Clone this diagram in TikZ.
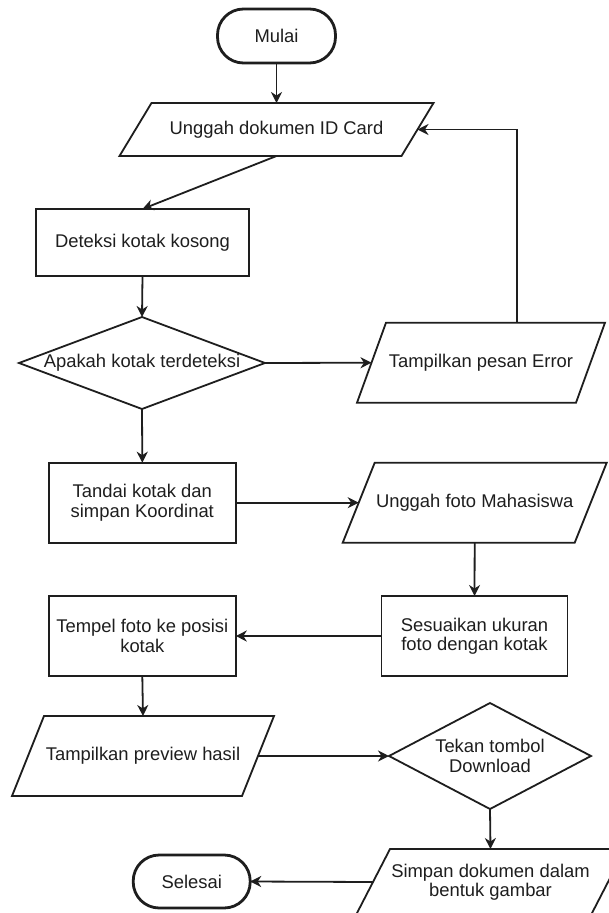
\documentclass[tikz,border=0pt]{standalone}
\usepackage{fontspec}
\setmainfont{Liberation Sans}
\usetikzlibrary{arrows.meta}
\definecolor{ink}{HTML}{1E1E1E}
\newcommand\mkdiam[1]{\draw[shapeline] (#1.north) -- (#1.east) -- (#1.south) -- (#1.west) -- cycle;}
\newcommand\mkpara[2]{\draw[shapeline] ([xshift=#2]#1.north west) -- ([xshift=#2]#1.north east) -- ([xshift=-#2]#1.south east) -- ([xshift=-#2]#1.south west) -- cycle;}
\tikzset{
  shapeline/.style={draw=ink, line width=1.8pt, line join=miter},
  base/.style={inner sep=0pt, outer sep=0pt, text=ink, align=center,
    font=\fontsize{18.4}{19.5}\selectfont},
  procbox/.style={base, draw=ink, line width=1.8pt, rectangle},
  iobox/.style={base, rectangle},
  decbox/.style={base, rectangle},
  termbox/.style={base, draw=ink, line width=2.8pt, rectangle, rounded corners=26pt},
  conn/.style={draw=ink, line width=1.8pt, -{Stealth[length=11pt,width=11pt,inset=3.5pt]}}
}
\begin{document}
\begin{tikzpicture}[x=1pt,y=-1pt]
\useasboundingbox (0,0) rectangle (609,913);
\clip (0,0) rectangle (609,913);
\fill[white] (0,0) rectangle (609,913);

\node[termbox, minimum width=118pt, minimum height=54pt] (mulai) at (276.5,36) {Mulai};
\node[iobox, minimum width=282pt, minimum height=53pt] (unggah) at (276.5,129.5) {Unggah dokumen ID Card};
\node[procbox, minimum width=213pt, minimum height=67pt] (deteksi) at (142.5,242.5) {Deteksi kotak kosong};
\node[decbox, minimum width=246pt, minimum height=92pt] (apakah) at (142,363) {Apakah kotak terdeteksi};
\node[iobox, minimum width=219pt, minimum height=80pt] (error) at (481,362.7) {Tampilkan pesan Error};
\node[procbox, minimum width=187pt, minimum height=80pt] (tandai) at (142.3,502.7) {Tandai kotak dan\\simpan Koordinat};
\node[iobox, minimum width=232pt, minimum height=80pt] (foto) at (474.7,502.7) {Unggah foto Mahasiswa};
\node[procbox, minimum width=186pt, minimum height=80pt] (sesuai) at (474.5,636) {Sesuaikan ukuran\\foto dengan kotak};
\node[procbox, minimum width=187pt, minimum height=80pt] (tempel) at (142.3,636) {Tempel foto ke posisi\\kotak};
\node[iobox, minimum width=230pt, minimum height=80pt] (preview) at (143,756) {Tampilkan preview hasil};
\node[decbox, minimum width=202pt, minimum height=106pt] (tekan) at (490,756) {Tekan tombol\\Download};
\node[iobox, minimum width=235pt, minimum height=66pt] (simpan) at (490.5,882) {Simpan dokumen dalam\\bentuk gambar};
\node[termbox, minimum width=117pt, minimum height=53pt] (selesai) at (191.7,881.5) {Selesai};

\mkpara{unggah}{16pt}
\mkdiam{apakah}
\mkpara{error}{14.5pt}
\mkpara{foto}{16pt}
\mkpara{preview}{16pt}
\mkdiam{tekan}
\mkpara{simpan}{17pt}

\draw[conn] (mulai.south) -- (unggah.north);
\draw[conn] (unggah.south) -- (deteksi.north);
\draw[conn] (deteksi.south) -- (apakah.north);
\draw[conn] (apakah.east) -- (error.west);
\draw[conn] ([xshift=36.3pt]error.north) |- (unggah.east);
\draw[conn] (apakah.south) -- (tandai.north);
\draw[conn] (tandai.east) -- (foto.west);
\draw[conn] (foto.south) -- (sesuai.north);
\draw[conn] (sesuai.west) -- (tempel.east);
\draw[conn] (tempel.south) -- (preview.north);
\draw[conn] (preview.east) -- (tekan.west);
\draw[conn] (tekan.south) -- (simpan.north);
\draw[conn] (simpan.west) -- (selesai.east);
\end{tikzpicture}
\end{document}
